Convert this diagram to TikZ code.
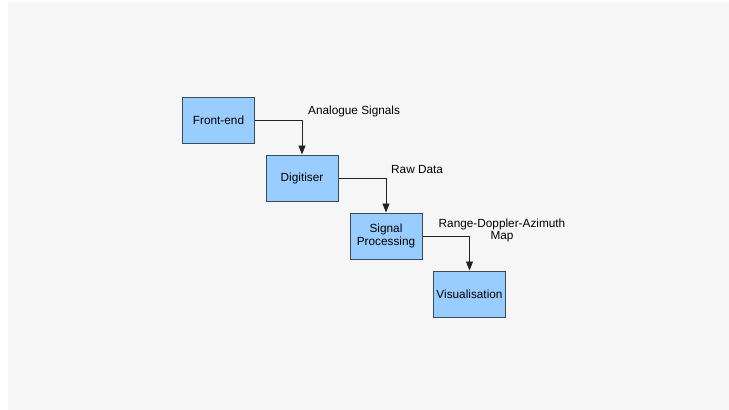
\documentclass[tikz,border=0pt]{standalone}
\usepackage{fontspec}
\setmainfont{Liberation Sans}
\usetikzlibrary{arrows.meta}
\definecolor{bgray}{HTML}{F6F6F6}
\definecolor{boxfill}{HTML}{99CCFF}
\definecolor{boxline}{HTML}{3A4B5C}
\definecolor{conn}{HTML}{222222}
\tikzset{
  blk/.style={draw=boxline, line width=1pt, fill=boxfill, minimum width=72pt, minimum height=46pt, inner sep=1pt, align=center, font=\fontsize{11.8pt}{12.5pt}\selectfont},
  lbl/.style={inner sep=0pt, font=\fontsize{11.8pt}{12pt}\selectfont},
  conx/.style={draw=conn, line width=0.9pt, -{Triangle[length=9pt,width=7pt]}}
}
\begin{document}
\begin{tikzpicture}[x=1pt,y=-1pt]
\useasboundingbox (0,0) rectangle (729,410);
\fill[white] (0,0) rectangle (729,410);
\fill[bgray] (8,2) rectangle (729,410);
\node[blk] (fe) at (218.5,120) {Front-end};
\node[blk] (dig) at (302,178) {Digitiser};
\node[blk] (sp) at (386,236) {Signal\\Processing};
\node[blk] (vis) at (469.5,294) {Visualisation};
\draw[conx] (fe.east) -| (dig.north);
\draw[conx] (dig.east) -| (sp.north);
\draw[conx] (sp.east) -| (vis.north);
\node[lbl, anchor=west] (l1) at (308,111) {Analogue Signals};
\node[lbl, anchor=west] (l2) at (391,169) {Raw Data};
\node[lbl, align=center] (l3) at (502,230) {Range-Doppler-Azimuth\\Map};
\end{tikzpicture}
\end{document}
